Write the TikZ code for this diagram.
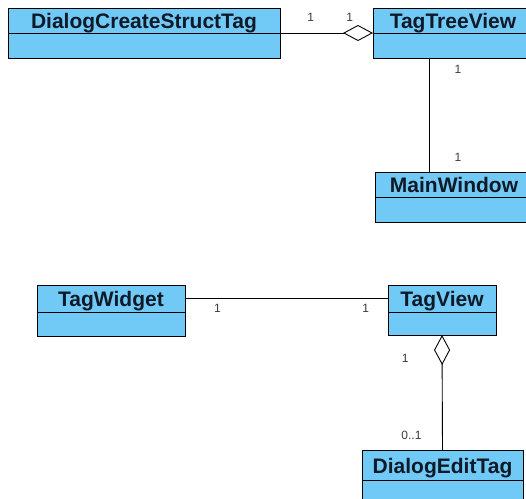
\documentclass[tikz,border=0pt]{standalone}
\usepackage{fontspec}
\setmainfont{Liberation Sans}
\usetikzlibrary{positioning,arrows.meta}

\definecolor{umlblue}{RGB}{112,202,245}
\definecolor{umltext}{RGB}{15,25,40}

\tikzset{
  classhead/.style={draw, fill=umlblue, inner sep=0pt, outer sep=0pt, text=umltext,
    font=\bfseries\fontsize{21}{21}\selectfont, text height=16.5pt, text depth=0.5pt, minimum height=25pt},
  classbody/.style={draw, fill=umlblue, inner sep=0pt, outer sep=0pt, minimum height=25pt},
  mult/.style={font=\fontsize{12}{12}\selectfont, text=umltext!85},
  aggr/.style={-{Diamond[open, length=30pt, width=16pt]}},
}

\begin{document}
\begin{tikzpicture}[x=1pt, y=-1pt, line width=0.9pt]
\useasboundingbox (0,0) rectangle (526,498);

% upper group
\node[classhead, minimum width=272pt] (dcsthead) at (144,20.5) {DialogCreateStructTag};
\node[classbody, minimum width=272pt, below=0pt of dcsthead] (dcstbody) {};

\node[classhead, minimum width=160pt] (ttvhead) at (453,20.5) {TagTreeView};
\node[classbody, minimum width=160pt, below=0pt of ttvhead] (ttvbody) {};

\node[classhead, minimum width=158pt] (mwhead) at (454,184.5) {MainWindow};
\node[classbody, minimum width=158pt, below=0pt of mwhead] (mwbody) {};

\draw[aggr] (dcsthead.south east) -- node[mult, pos=0.33, yshift=16pt] (m1) {1}
  node[mult, pos=0.75, yshift=16pt] (m2) {1} (ttvhead.south west);

\draw ([xshift=56pt]ttvbody.south west) -- node[mult, pos=0.1, xshift=29pt] (m3) {1}
  node[mult, pos=0.87, xshift=29pt] (m4) {1} ([xshift=54pt]mwhead.north west);

% lower group
\node[classhead, minimum width=148pt, minimum height=27pt] (twhead) at (111,298.5) {TagWidget};
\node[classbody, minimum width=148pt, minimum height=24pt, below=0pt of twhead] (twbody) {};

\node[classhead, minimum width=108pt, minimum height=27pt] (tvhead) at (442,298.5) {TagView};
\node[classbody, minimum width=108pt, minimum height=23pt, below=0pt of tvhead] (tvbody) {};

\node[classhead, minimum width=161pt, minimum height=30pt] (dethead) at (442.5,465) {DialogEditTag};
\node[classbody, minimum width=161pt, below=0pt of dethead] (detbody) {};

\draw (twhead.east) -- node[mult, pos=0.16, yshift=-10pt] (m5) {1}
  node[mult, pos=0.89, yshift=-10pt] (m6) {1} (tvhead.west);

\draw[aggr] (dethead.north) -- node[mult, pos=0.13, xshift=-31pt] (m7) {0..1}
  node[mult, pos=0.8, xshift=-37pt] (m8) {1} (tvbody.south);

\end{tikzpicture}
\end{document}
